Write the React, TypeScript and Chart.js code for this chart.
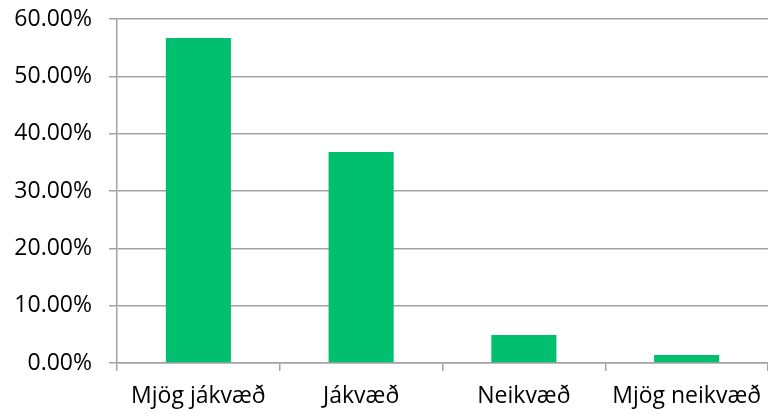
import React, { useEffect, useRef } from "react";
import { Chart, registerables } from "chart.js";

Chart.register(...registerables);

const categories = ["Mjög jákvæð", "Jákvæð", "Neikvæð", "Mjög neikvæð"];
const values = [56.7, 36.8, 4.9, 1.4];
const yTickMin = 0;
const yTickMax = 60;
const yTickStep = 10;

const GRID = "#a3a3a3";
const FONT = "'Open Sans', sans-serif";

export default function App() {
  const ref = useRef<HTMLCanvasElement | null>(null);

  useEffect(() => {
    if (!ref.current) return;
    const chart = new Chart(ref.current, {
      type: "bar",
      data: {
        labels: categories,
        datasets: [
          {
            data: values,
            backgroundColor: "#00bf6f",
            borderWidth: 0,
            barPercentage: 0.4,
            categoryPercentage: 1.0,
          },
        ],
      },
      options: {
        animation: false,
        responsive: false,
        devicePixelRatio: 1,
        layout: { padding: { top: 19, right: 0, left: 0, bottom: 0 } },
        plugins: {
          legend: { display: false },
          tooltip: { enabled: false },
        },
        scales: {
          x: {
            offset: true,
            grid: {
              offset: true,
              drawOnChartArea: false,
              drawTicks: true,
              tickLength: 8,
              color: GRID,
              lineWidth: 1.5,
            },
            border: { display: true, color: GRID, width: 1.5 },
            ticks: {
              color: "#000",
              font: { family: FONT, size: 23 },
              padding: 12,
              maxRotation: 0,
              autoSkip: false,
            },
            afterFit: (s: any) => {
              s.height = 51;
              s.paddingLeft = 0;
              s.paddingRight = 0;
            },
          },
          y: {
            min: yTickMin,
            max: yTickMax,
            grid: {
              color: GRID,
              lineWidth: 1.5,
              tickLength: 8,
              drawTicks: true,
            },
            border: { display: true, color: GRID, width: 1.5 },
            ticks: {
              stepSize: yTickStep,
              color: "#000",
              font: { family: FONT, size: 23 },
              padding: 17,
              callback: (v: any) => Number(v).toFixed(2) + "%",
            },
            afterFit: (s: any) => {
              s.width = 117;
              s.paddingTop = 0;
              s.paddingBottom = 0;
            },
          },
        },
      },
    });
    return () => chart.destroy();
  }, []);

  return (
    <div style={{ position: "absolute", left: 0, top: 0, width: 768, height: 414, background: "#fff" }}>
      <canvas ref={ref} width={768} height={414} style={{ width: 768, height: 414 }} />
    </div>
  );
}
